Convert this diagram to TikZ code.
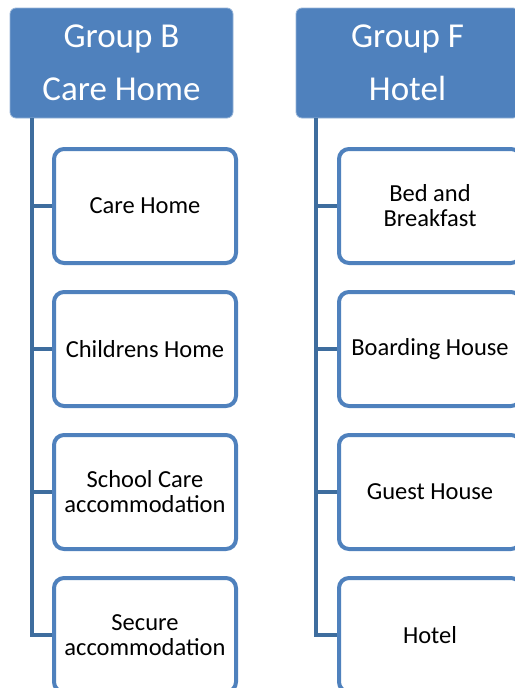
\documentclass[tikz,border=0pt]{standalone}
\usepackage{fontspec}
\setmainfont{Carlito}
\definecolor{hdr}{HTML}{4F81BD}
\definecolor{conn}{HTML}{3E6D9E}
\begin{document}
\begin{tikzpicture}[x=1pt,y=-1pt,
  header/.style={fill=hdr,draw=hdr!60!white,line width=0.8pt,rounded corners=6pt,minimum width=223pt,minimum height=110pt,inner sep=0pt,text=white,font=\fontsize{35}{53}\selectfont,align=center},
  child/.style={draw=hdr,line width=4pt,fill=white,rounded corners=10pt,minimum width=182pt,minimum height=114pt,inner sep=0pt,text=black,font=\fontsize{24.5}{25}\selectfont,align=center},
  link/.style={draw=conn,line width=4pt}]
\useasboundingbox (0,0) rectangle (514,688);
\node[header] (gb) at (121.5,63) {Group B\\Care Home};
\node[header] (gf) at (407.5,63) {Group F\\Hotel};
\node[child] (b1) at (145,206) {Care Home};
\node[child] (b2) at (145,349) {Childrens Home};
\node[child] (b3) at (145,492) {School Care\\accommodation};
\node[child] (b4) at (145,635) {Secure\\accommodation};
\node[child] (f1) at (430,206) {Bed and\\Breakfast};
\node[child] (f2) at (430,349) {Boarding House};
\node[child] (f3) at (430,492) {Guest House};
\node[child] (f4) at (430,635) {Hotel};
\coordinate (bt) at (32,118);
\coordinate (ft) at (316,118);
\begin{scope}[on background layer/.style={}]
\draw[link] (bt) |- (b4.west);
\draw[link] (bt |- b1.west) -- (b1.west);
\draw[link] (bt |- b2.west) -- (b2.west);
\draw[link] (bt |- b3.west) -- (b3.west);
\draw[link] (ft) |- (f4.west);
\draw[link] (ft |- f1.west) -- (f1.west);
\draw[link] (ft |- f2.west) -- (f2.west);
\draw[link] (ft |- f3.west) -- (f3.west);
\end{scope}
\end{tikzpicture}
\end{document}
